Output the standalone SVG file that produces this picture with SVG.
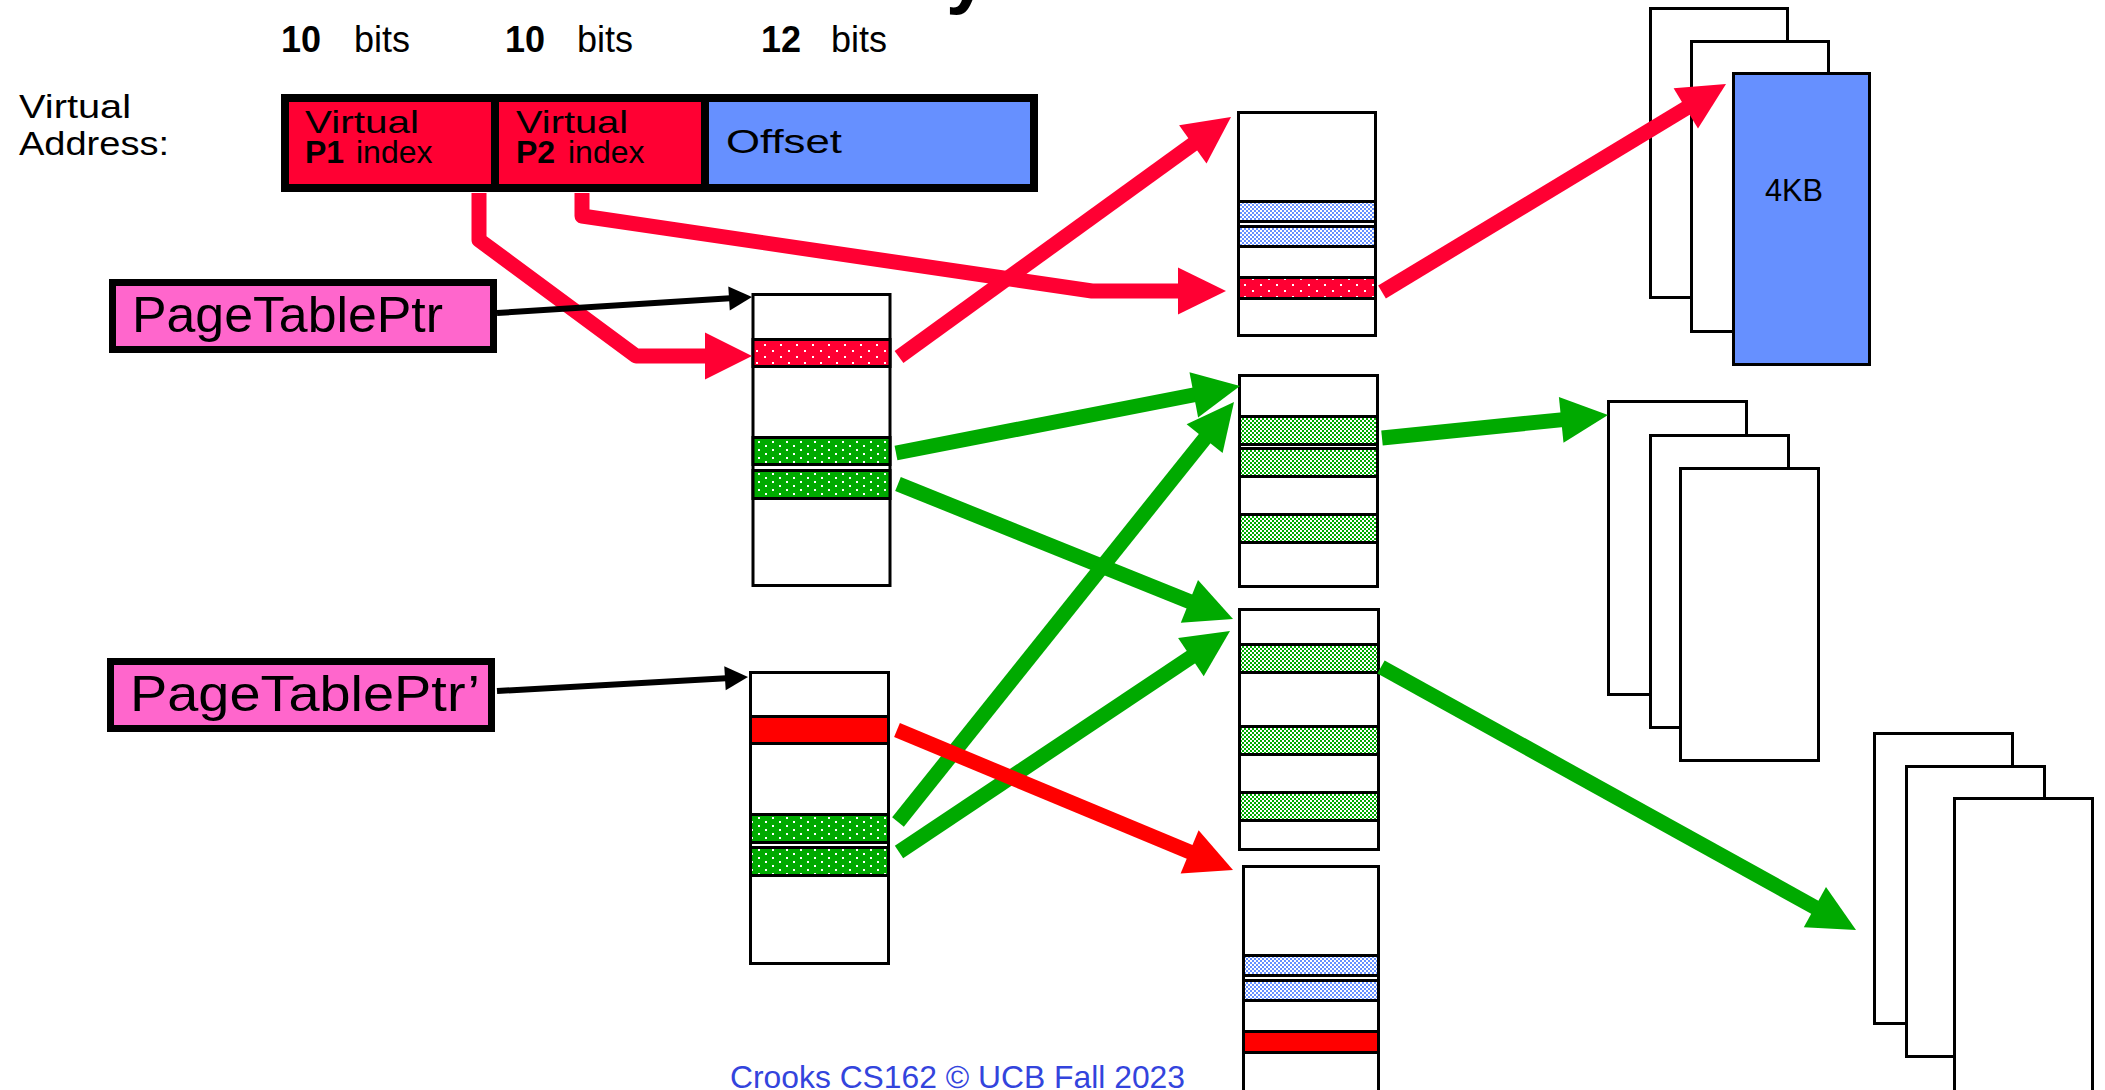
<svg xmlns="http://www.w3.org/2000/svg" width="2105" height="1090" viewBox="0 0 2105 1090">
  <defs>
    <style>
      .lbl { font-family: "Liberation Sans", Arial, sans-serif; fill: #000; }
      .tbl { fill: #fff; stroke: #000; stroke-width: 3; }
      .page { fill: #fff; stroke: #000; stroke-width: 3; }
      .row { stroke: #000; stroke-width: 3; }
      .dot-red { fill: url(#dotRed); }
      .dot-green { fill: url(#dotGreen); }
      .chk-green { fill: url(#chkGreen); }
      .chk-blue { fill: url(#chkBlue); }
      .solid-red { fill: #FF0000; }
      .ln-red { fill: none; stroke: #FF0033; stroke-width: 15; stroke-linejoin: round; }
      .hd-red { fill: #FF0033; }
      .ln-red2 { fill: none; stroke: #FF0000; stroke-width: 15; }
      .hd-red2 { fill: #FF0000; }
      .ln-green { fill: none; stroke: #00AA00; stroke-width: 15; }
      .hd-green { fill: #00AA00; }
      .ln-black { fill: none; stroke: #000; stroke-width: 6; }
      .hd-black { fill: #000; }
    </style>
    <pattern id="dotRed" width="16" height="12" patternUnits="userSpaceOnUse">
      <rect width="16" height="12" fill="#FF0033"/>
      <rect x="4" y="2" width="2" height="2" fill="#fff"/>
      <rect x="12" y="8" width="2" height="2" fill="#fff"/>
    </pattern>
    <pattern id="dotGreen" width="14" height="8" patternUnits="userSpaceOnUse">
      <rect width="14" height="8" fill="#00AA00"/>
      <rect x="2" y="1" width="2" height="2" fill="#fff"/>
      <rect x="9" y="5" width="2" height="2" fill="#fff"/>
    </pattern>
    <pattern id="chkGreen" width="4" height="4" patternUnits="userSpaceOnUse">
      <rect width="4" height="4" fill="#fff"/>
      <rect width="2" height="2" fill="#00AA00"/>
      <rect x="2" y="2" width="2" height="2" fill="#00AA00"/>
    </pattern>
    <pattern id="chkBlue" width="4" height="4" patternUnits="userSpaceOnUse">
      <rect width="4" height="4" fill="#fff"/>
      <rect width="2" height="2" fill="#6690FF"/>
      <rect x="2" y="2" width="2" height="2" fill="#6690FF"/>
    </pattern>
  </defs>

  <rect width="2105" height="1090" fill="#fff"/>

  <!-- descender of the slide title, cut by the top edge -->
  <text class="lbl" x="946" y="-1" font-size="76" font-weight="bold">y</text>

  <!-- field widths -->
  <g id="bit-widths" class="lbl" font-size="36">
    <text x="281" y="52"><tspan font-weight="bold">10</tspan><tspan x="354">bits</tspan></text>
    <text x="505" y="52"><tspan font-weight="bold">10</tspan><tspan x="577">bits</tspan></text>
    <text x="761" y="52"><tspan font-weight="bold">12</tspan><tspan x="831">bits</tspan></text>
  </g>

  <g id="va-label" class="lbl" font-size="34">
    <text x="19" y="118" textLength="112" lengthAdjust="spacingAndGlyphs">Virtual</text>
    <text x="19" y="155" textLength="150" lengthAdjust="spacingAndGlyphs">Address:</text>
  </g>

  <!-- virtual address split into fields -->
  <g id="virtual-address">
    <rect x="285" y="98" width="210" height="90" fill="#FF0033"/>
    <rect x="495" y="98" width="210" height="90" fill="#FF0033"/>
    <rect x="705" y="98" width="329" height="90" fill="#6690FF"/>
    <rect x="285" y="98" width="749" height="90" fill="none" stroke="#000" stroke-width="8"/>
    <line x1="495" y1="98" x2="495" y2="188" stroke="#000" stroke-width="8"/>
    <line x1="705" y1="98" x2="705" y2="188" stroke="#000" stroke-width="8"/>
    <g class="lbl" font-size="32">
      <text x="305" y="133" textLength="114" lengthAdjust="spacingAndGlyphs">Virtual</text>
      <text x="305" y="163"><tspan font-weight="bold">P1</tspan><tspan x="356">index</tspan></text>
      <text x="516" y="133" textLength="112" lengthAdjust="spacingAndGlyphs">Virtual</text>
      <text x="516" y="163"><tspan font-weight="bold">P2</tspan><tspan x="568">index</tspan></text>
      <text x="726" y="153" font-size="34" textLength="116" lengthAdjust="spacingAndGlyphs">Offset</text>
    </g>
  </g>

  <g id="page-table-ptr">
    <rect x="112.5" y="282.5" width="381" height="67" fill="#FF66CC" stroke="#000" stroke-width="7"/>
    <text class="lbl" x="132" y="332" font-size="50" textLength="311" lengthAdjust="spacingAndGlyphs">PageTablePtr</text>
  </g>

  <g id="page-table-ptr-prime">
    <rect x="110.5" y="661.5" width="381" height="67" fill="#FF66CC" stroke="#000" stroke-width="7"/>
    <text class="lbl" x="130" y="711" font-size="50" textLength="350" lengthAdjust="spacingAndGlyphs">PageTablePtr’</text>
  </g>

  <!-- first-level tables -->
  <g id="l1-table-1">
    <rect class="tbl" x="753" y="294.5" width="137" height="291"/>
    <rect class="row dot-red" x="753" y="339.5" width="137" height="27"/>
    <rect class="row dot-green" x="753" y="437.5" width="137" height="27"/>
    <rect class="row dot-green" x="753" y="470.5" width="137" height="28"/>
  </g>

  <g id="l1-table-2">
    <rect class="tbl" x="750.5" y="672.5" width="138" height="291"/>
    <rect class="row solid-red" x="750.5" y="716.5" width="138" height="27"/>
    <rect class="row dot-green" x="750.5" y="814.5" width="138" height="28"/>
    <rect class="row dot-green" x="750.5" y="847.5" width="138" height="28"/>
  </g>

  <!-- second-level tables -->
  <g id="l2-table-a">
    <rect class="tbl" x="1238.5" y="112.5" width="137" height="223"/>
    <rect class="row chk-blue" x="1238.5" y="201.5" width="137" height="20"/>
    <rect class="row chk-blue" x="1238.5" y="226.5" width="137" height="20"/>
    <rect class="row dot-red" x="1238.5" y="277.5" width="137" height="21"/>
  </g>

  <g id="l2-table-b">
    <rect class="tbl" x="1239.5" y="375.5" width="138" height="211"/>
    <rect class="row chk-green" x="1239.5" y="416.5" width="138" height="28"/>
    <rect class="row chk-green" x="1239.5" y="448.5" width="138" height="28"/>
    <rect class="row chk-green" x="1239.5" y="514.5" width="138" height="28"/>
  </g>

  <g id="l2-table-c">
    <rect class="tbl" x="1239.5" y="609.5" width="139" height="240"/>
    <rect class="row chk-green" x="1239.5" y="644.5" width="139" height="28"/>
    <rect class="row chk-green" x="1239.5" y="726.5" width="139" height="28"/>
    <rect class="row chk-green" x="1239.5" y="792.5" width="139" height="28"/>
  </g>

  <g id="l2-table-d">
    <rect class="tbl" x="1243.5" y="866.5" width="135" height="240"/>
    <rect class="row chk-blue" x="1243.5" y="955.5" width="135" height="20"/>
    <rect class="row chk-blue" x="1243.5" y="980.5" width="135" height="20"/>
    <rect class="row solid-red" x="1243.5" y="1031.5" width="135" height="21"/>
  </g>

  <!-- physical pages -->
  <g id="pages-1">
    <rect class="page" x="1650.5" y="8.5" width="137" height="289"/>
    <rect class="page" x="1691.5" y="41.5" width="137" height="290"/>
    <rect class="page" x="1733.5" y="73.5" width="136" height="291" fill="#6690FF" style="fill:#6690FF"/>
    <text class="lbl" x="1794" y="201" font-size="32" text-anchor="middle" textLength="58" lengthAdjust="spacingAndGlyphs">4KB</text>
  </g>

  <g id="pages-2">
    <rect class="page" x="1608.5" y="401.5" width="138" height="293"/>
    <rect class="page" x="1650.5" y="435.5" width="138" height="292"/>
    <rect class="page" x="1680.5" y="468.5" width="138" height="292"/>
  </g>

  <g id="pages-3">
    <rect class="page" x="1874.5" y="733.5" width="138" height="290"/>
    <rect class="page" x="1906.5" y="766.5" width="138" height="290"/>
    <rect class="page" x="1954.5" y="798.5" width="138" height="310"/>
  </g>

  <!-- connectors -->
  <g id="connectors">
    <!-- green: second-level pointers and page frames -->
    <line class="ln-green" x1="896" y1="453" x2="1195.8" y2="394.5"/>
    <polygon class="hd-green" points="1240,386 1198.1,417.5 1189.5,372.3"/>
    <line class="ln-green" x1="898" y1="484" x2="1191.3" y2="602.2"/>
    <polygon class="hd-green" points="1233,619 1180.8,622.7 1198,580.1"/>
    <line class="ln-green" x1="898" y1="822" x2="1205.9" y2="437.1"/>
    <polygon class="hd-green" points="1234,402 1222.6,453.1 1186.6,424.3"/>
    <line class="ln-green" x1="899" y1="852" x2="1192.6" y2="656"/>
    <polygon class="hd-green" points="1230,631 1203.7,676.2 1178.1,638"/>
    <line class="ln-green" x1="1382" y1="438" x2="1563.2" y2="419.6"/>
    <polygon class="hd-green" points="1608,415 1563.5,442.7 1558.9,396.9"/>
    <line class="ln-green" x1="1381" y1="667" x2="1816.6" y2="908.2"/>
    <polygon class="hd-green" points="1856,930 1803.8,927.3 1826,887.1"/>

    <!-- red: translation walk -->
    <path class="ln-red" d="M479,193 V240 L636,356 H707"/>
    <polygon class="hd-red" points="705,332.5 752,356 705,379.5"/>
    <path class="ln-red" d="M582,193 V216 L1092,291 H1180"/>
    <polygon class="hd-red" points="1178,267.5 1226,291 1178,314.5"/>
    <line class="ln-red" x1="899" y1="357" x2="1194.4" y2="143.1"/>
    <polygon class="hd-red" points="1231,117 1206.5,163.4 1179.1,125.2"/>
    <line class="ln-red" x1="1382" y1="292" x2="1687.5" y2="107.3"/>
    <polygon class="hd-red" points="1726,84 1698,128.4 1673.6,88.2"/>
    <line class="ln-red2" x1="897" y1="730" x2="1191.4" y2="852.7"/>
    <polygon class="hd-red2" points="1233,870 1180.6,873.6 1198.6,830.2"/>

    <!-- black: table base pointers -->
    <line class="ln-black" x1="497" y1="313" x2="730" y2="298.3"/>
    <polygon class="hd-black" points="752,297 729.8,310.4 728.3,286.4"/>
    <line class="ln-black" x1="497" y1="691" x2="726" y2="678.2"/>
    <polygon class="hd-black" points="748,677 725.7,690.3 724.3,666.3"/>
  </g>

  <text id="footer" x="730" y="1088" font-family="'Liberation Sans', Arial, sans-serif" font-size="32" fill="#3344DD" textLength="455" lengthAdjust="spacingAndGlyphs">Crooks CS162 © UCB Fall 2023</text>
</svg>
